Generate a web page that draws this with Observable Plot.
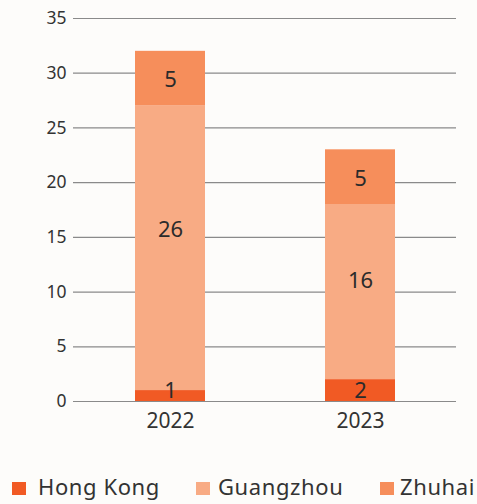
<!DOCTYPE html>
<html>
<head>
<meta charset="utf-8">
<script src="https://cdn.jsdelivr.net/npm/d3@7"></script>
<script src="https://cdn.jsdelivr.net/npm/@observablehq/plot@0.6"></script>
<style>
  html, body { margin: 0; padding: 0; background: #fdfcfa; }
  #wrap { position: relative; width: 477px; height: 504px; font-family: "Noto Sans", sans-serif; color: #333; overflow: hidden; }
  #chart { position: absolute; left: 0; top: 0; }
  .sw { position: absolute; top: 482px; width: 14px; height: 13px; }
  .lt { position: absolute; top: 473px; font-size: 22px; line-height: 26px; letter-spacing: 0.6px; color: #333; white-space: nowrap; }
</style>
</head>
<body>
<div id="wrap"><div id="chart"></div><div id="legend"></div></div>
<script>
const years = ["2022", "2023"];
const regions = ["Hong Kong", "Guangzhou", "Zhuhai"];
const hongKong = [1, 2];
const guangzhou = [26, 16];
const zhuhai = [5, 5];
const colors = ["#f15a24", "#f8ab84", "#f68e5b"];
const yTicks = [0, 5, 10, 15, 20, 25, 30, 35];

// where inside each segment its value label sits (fraction of the segment)
const labelFrac = [0.5, 0.565, 0.47];

const seriesValues = [hongKong, guangzhou, zhuhai];
const data = [];
years.forEach((y, i) => {
  let base = 0;
  regions.forEach((r, k) => {
    const v = seriesValues[k][i];
    data.push({year: y, region: r, value: v, y1: base, y2: base + v,
               ly: Math.max(base + v * labelFrac[k], base + 1)});
    base += v;
  });
});

const chart = Plot.plot({
  width: 477,
  height: 440,
  marginLeft: 73,
  marginRight: 21,
  marginTop: 18,
  marginBottom: 39,
  style: {background: "transparent", fontFamily: "Noto Sans, sans-serif", color: "#333"},
  x: {domain: years, paddingInner: 0.634, paddingOuter: 0.32, label: null, tickSize: 0},
  y: {domain: [0, 35], ticks: yTicks, label: null, tickSize: 0},
  color: {domain: regions, range: colors},
  marks: [
    Plot.ruleY(yTicks, {stroke: "#8a8a8a", strokeWidth: 1.2}),
    Plot.barY(data, {x: "year", y1: "y1", y2: "y2", fill: "region"}),
    Plot.text(data, {x: "year", y: "ly", text: d => String(d.value), fill: "#2b2b2b", fontSize: 22}),
    Plot.axisY({ticks: yTicks, tickSize: 0, tickPadding: 7, fontSize: 17.5, fill: "#333", label: null}),
    Plot.axisX({tickSize: 0, tickPadding: 12, fontSize: 21, fill: "#333", label: null})
  ]
});
document.getElementById("chart").appendChild(chart);

const legend = document.getElementById("legend");
const swLefts = [12, 196, 380];
const txLefts = [38, 218, 400];
regions.forEach((r, k) => {
  const sw = document.createElement("div");
  sw.className = "sw";
  sw.style.left = swLefts[k] + "px";
  sw.style.background = colors[k];
  const tx = document.createElement("div");
  tx.className = "lt";
  tx.style.left = txLefts[k] + "px";
  tx.textContent = r;
  legend.appendChild(sw);
  legend.appendChild(tx);
});
</script>
</body>
</html>
